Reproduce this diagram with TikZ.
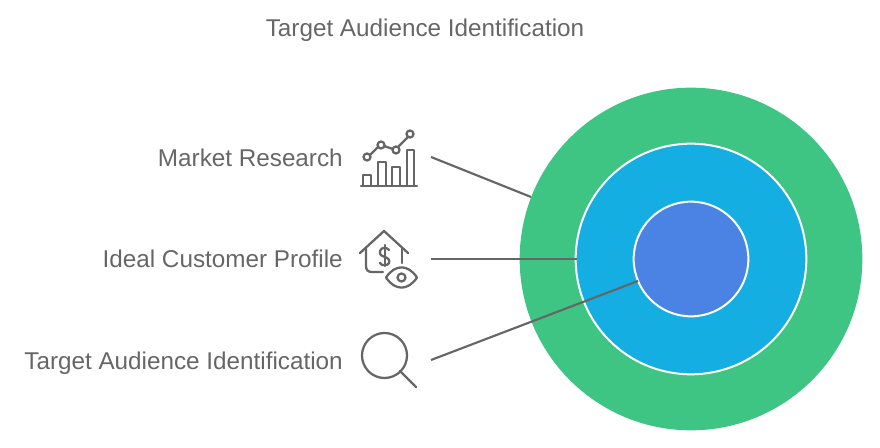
\documentclass[tikz,border=0pt]{standalone}
\usepackage{fontspec}
\setmainfont{Liberation Sans}
\usepackage{xcolor}
\usetikzlibrary{positioning,calc}
\definecolor{ringgreen}{HTML}{3EC584}
\definecolor{ringblue}{HTML}{14AEE3}
\definecolor{coreblue}{HTML}{4A83E3}
\definecolor{bk70}{HTML}{666666}
\tikzset{
  ringnode/.style={
    circle, draw=white, fill=#1, line width=1.5pt, inner sep=0pt
  },
  labelnode/.style={
    font=\fontsize{18.2}{20}\selectfont, text=bk70, anchor=base east, inner sep=0pt
  },
  leaderline/.style={
    draw=bk70, line width=1.6pt
  },
  iconline/.style={
    draw=bk70, line width=1.7pt, line cap=round, line join=round
  },
}
\begin{document}
\begin{tikzpicture}[x=0.75pt, y=-0.75pt]
  \useasboundingbox (0,0) rectangle (880,448);

  % Title
  \node[font=\fontsize{18.2}{20}\selectfont, text=bk70, inner sep=0pt, anchor=base] (title) at (425,37) {Target Audience Identification};

  % Rings
  \node[ringnode=ringgreen, minimum size=257pt, draw=none] (ring1) at (691,259) {};
  \node[ringnode=ringblue, minimum size=173pt] (ring2) at (691,259) {};
  \node[ringnode=coreblue, minimum size=86pt] (ring3) at (691,259) {};

  % Labels
  \node[labelnode] (research) at (343,167) {Market Research};
  \node[labelnode] (profile) at (343,268) {Ideal Customer Profile};
  \node[labelnode] (target) at (343,369) {Target Audience Identification};

  % Leaders
  \coordinate (start1) at (431,157);
  \coordinate (start2) at (431,259);
  \coordinate (start3) at (431,360);
  \coordinate (end1) at (531,197);
  \coordinate (end2) at (577,259);
  \coordinate (end3) at (638,281);
  \draw[leaderline] (start1) -- (end1);
  \draw[leaderline] (start2) -- (end2);
  \draw[leaderline] (start3) -- (end3);

  % Chart icon
  \draw[iconline] (361,186) -- (417,186);
  \draw[iconline] (363,186) -- (363,175) -- (371,175) -- (371,186);
  \draw[iconline] (378,186) -- (378,162) -- (386,162) -- (386,186);
  \draw[iconline] (392,186) -- (392,167) -- (400,167) -- (400,186);
  \draw[iconline] (407,186) -- (407,150) -- (414,150) -- (414,186);
  \draw[iconline] (367,157) circle (3.5);
  \draw[iconline] (381,145) circle (3.5);
  \draw[iconline] (396,150) circle (3.5);
  \draw[iconline] (410,134) circle (3.5);
  \draw[iconline] (370,155) -- (378,147);
  \draw[iconline] (384,146) -- (393,149);
  \draw[iconline] (398,147) -- (408,137);

  % House icon
  \draw[iconline] (360,253) -- (384,231) -- (408,253);
  \draw[iconline] (366,248) -- (366,266) .. controls (366,270) and (368,272) .. (372,272) -- (383,272);
  \draw[iconline] (402,248) -- (402,263);
  \draw[iconline] (389,250) .. controls (387,247) and (381,247) .. (380,251) .. controls (379,255) and (382,256) .. (385,257) .. controls (388,258) and (390,260) .. (389,263) .. controls (388,266) and (381,266) .. (380,263);
  \draw[iconline] (385,245) -- (385,266);
  \draw[iconline] (386,277.5) .. controls (395,264) and (408,264) .. (417,277.5) .. controls (408,291) and (395,291) .. (386,277.5) -- cycle;
  \draw[iconline] (401.5,277.5) circle (4);

  % Magnifier icon
  \draw[iconline] (384.5,355.5) circle (22.5);
  \draw[iconline] (400,371) -- (416,387);
\end{tikzpicture}
\end{document}
